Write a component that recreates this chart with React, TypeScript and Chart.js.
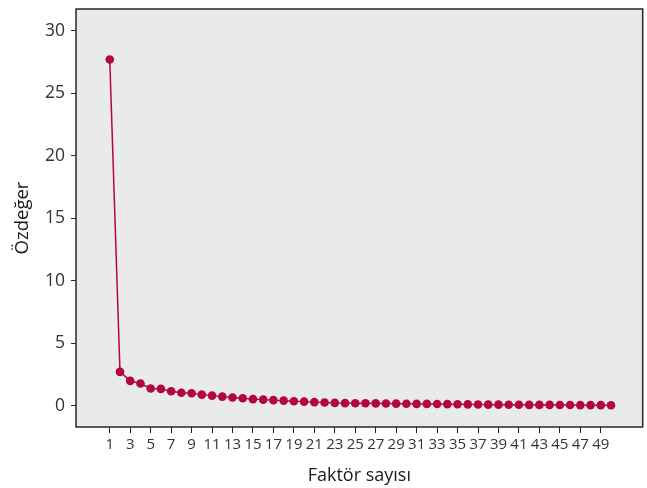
import React, { useEffect, useRef } from "react";
import { Chart, registerables } from "chart.js";

Chart.register(...registerables);

const factors = [1,2,3,4,5,6,7,8,9,10,11,12,13,14,15,16,17,18,19,20,21,22,23,24,25,26,27,28,29,30,31,32,33,34,35,36,37,38,39,40,41,42,43,44,45,46,47,48,49,50];
const eigenvalues = [27.7,2.71,1.99,1.78,1.38,1.35,1.16,1.04,1.0,0.89,0.81,0.73,0.66,0.6,0.53,0.49,0.45,0.41,0.36,0.33,0.29,0.26,0.23,0.21,0.2,0.2,0.19,0.18,0.17,0.16,0.15,0.15,0.14,0.13,0.12,0.11,0.1,0.09,0.09,0.08,0.08,0.07,0.07,0.07,0.06,0.06,0.05,0.05,0.05,0.04];
const xTickValues = [1,3,5,7,9,11,13,15,17,19,21,23,25,27,29,31,33,35,37,39,41,43,45,47,49];
const yTickValues = [0,5,10,15,20,25,30];
const xTitle = "Faktör sayısı";
const yTitle = "Özdeğer";

const FONT = "'Open Sans', 'Noto Sans', sans-serif";
const RED = "#b3073c";

const framePlugin = {
  id: "frame",
  beforeDraw(chart: any) {
    const { ctx, chartArea: a } = chart;
    ctx.save();
    ctx.fillStyle = "#e9eaea";
    ctx.fillRect(a.left, a.top, a.right - a.left, a.bottom - a.top);
    ctx.restore();
  },
  beforeDatasetsDraw(chart: any) {
    const { ctx, chartArea: a } = chart;
    ctx.save();
    ctx.strokeStyle = "#262626";
    ctx.lineWidth = 1.5;
    ctx.strokeRect(a.left, a.top, a.right - a.left, a.bottom - a.top);
    ctx.restore();
  },
};

const zeroPad = (s: any) => {
  s.paddingTop = 0;
  s.paddingBottom = 0;
  s.paddingLeft = 0;
  s.paddingRight = 0;
};

export default function App() {
  const ref = useRef<HTMLCanvasElement | null>(null);
  useEffect(() => {
    if (!ref.current) return;
    const chart = new Chart(ref.current, {
      type: "line",
      data: {
        datasets: [
          {
            data: factors.map((f, i) => ({ x: f, y: eigenvalues[i] })),
            borderColor: RED,
            backgroundColor: RED,
            borderWidth: 1.5,
            pointRadius: 4.3,
            pointBorderWidth: 0,
            pointBackgroundColor: RED,
            tension: 0,
          },
        ],
      },
      options: {
        animation: false,
        responsive: false,
        layout: { padding: { top: 9, right: 3, left: 0, bottom: 0 } },
        plugins: { legend: { display: false }, tooltip: { enabled: false } },
        scales: {
          x: {
            type: "linear",
            min: -2.3,
            max: 53.1,
            afterBuildTicks: (s: any) => {
              s.ticks = xTickValues.map((v) => ({ value: v }));
            },
            afterFit: (s: any) => {
              s.height = 61;
              zeroPad(s);
            },
            grid: { drawOnChartArea: false, drawTicks: true, tickLength: 6, color: "#262626", lineWidth: 1 },
            border: { display: false },
            ticks: {
              autoSkip: false,
              maxRotation: 0,
              padding: 3,
              color: "#333333",
              font: { family: FONT, size: 15 },
              callback: (v: any) => String(v),
            },
            title: {
              display: true,
              text: xTitle,
              color: "#1a1a1a",
              font: { family: FONT, size: 18 },
              padding: { top: 0, bottom: 1 },
            },
          },
          y: {
            min: -1.7,
            max: 31.74,
            afterBuildTicks: (s: any) => {
              s.ticks = yTickValues.map((v) => ({ value: v }));
            },
            afterFit: (s: any) => {
              s.width = 76;
              zeroPad(s);
            },
            grid: { drawOnChartArea: false, drawTicks: true, tickLength: 5, color: "#262626", lineWidth: 1 },
            border: { display: false },
            ticks: {
              padding: 6,
              color: "#333333",
              font: { family: FONT, size: 17.5 },
              callback: (v: any) => String(v),
            },
            title: {
              display: true,
              text: yTitle,
              color: "#1a1a1a",
              font: { family: FONT, size: 18.5 },
              padding: { top: 12, bottom: 0 },
            },
          },
        },
      },
      plugins: [framePlugin],
    } as any);
    return () => chart.destroy();
  }, []);
  return (
    <div style={{ position: "absolute", left: 0, top: 0, width: 647, height: 488, background: "#fff" }}>
      <canvas ref={ref} width={647} height={488} style={{ display: "block" }} />
    </div>
  );
}
